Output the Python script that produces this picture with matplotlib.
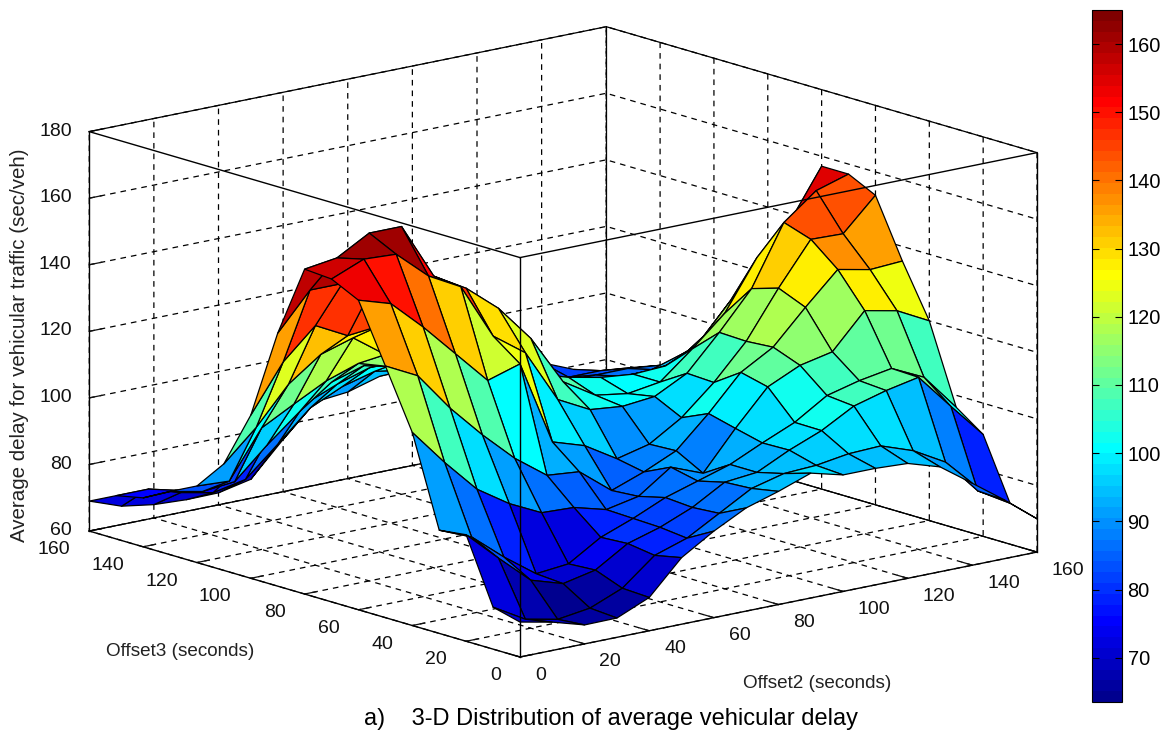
import numpy as np
import matplotlib
matplotlib.use('Agg')
import matplotlib.pyplot as plt
from matplotlib.colors import Normalize, ListedColormap
from matplotlib.cm import ScalarMappable
from mpl_toolkits.mplot3d import proj3d

plt.rcParams['font.family'] = ['Liberation Sans', 'DejaVu Sans']

offset2 = list(range(0, 170, 10))
offset3 = list(range(0, 170, 10))
r00 = [70.5,68.5,65.7,65.8,70,80,86,91,94,97.5,95,95,94.5,91.5,84.6,77.6,70]
r01 = [72.6,67,65,66.4,70.4,78.3,81.5,87,92.5,95,95.5,97,97.4,94,88.6,78,72.3]
r02 = [92,83,74.4,71.4,73.5,79.5,82.4,86.4,92,93,97.7,101.6,107,109.7,111.7,101,90.6]
r03 = [91,87,79,72,73,79,82.7,87,90,93,97.5,101.7,107.8,110.3,112,107.4,96.4]
r04 = [118,107,97,90.7,86,85.6,83,85,91.8,88,99.5,110,114.5,116.6,127,125,120]
r05 = [135.6,130.7,119,109,100,92.9,92,84.4,88,92.4,101.6,112,117.6,127.6,137,135,135.6]
r06 = [153,150,141,131,121,124,98.6,95.5,89.6,92,98,106.6,117,131,143.7,143.4,153]
r07 = [157,161,160.5,152,146.8,130,123,107,102,101,102,107,117.3,128.5,146.4,154,157]
r08 = [157.6,159,164.5,164.5,147.6,142,134,123,108,102,100.5,102,110,118.7,133.5,142,157]
r09 = [136,147,147,145,135,130,125,115,108,105,103,102,102.5,107,118,125,130]
r10 = [109,123,132,127,128,120,112,108,104,100,98,97,97,98,105,113,115]
r11 = [92,101,112,119,122,115,110,105,101,97,95,94,93,92,95,100,102]
r12 = [83,82.5,96.5,101.7,106.7,110,107,103,98,94,92,91,90,89,90,93,96]
r13 = [79,77,78,87,95,102,105,105,100,95,91,89,88,87,86,86,86]
r14 = [74.7,75,73.7,78,87,93,97,100,100,94,90,87,85,84,84,84,83]
r15 = [73,73,70,68,70,78.6,87.5,92,94.6,93,89,85,83,82,81,81,80]
r16 = [69,65.5,64,63.5,63.6,65.7,75.7,85,86,88.8,90,85,84,84,83,79,76]
delay = np.array([r00,r01,r02,r03,r04,r05,r06,r07,r08,r09,r10,r11,r12,r13,r14,r15,r16])

xy_ticks = [0,20,40,60,80,100,120,140,160]
z_ticks = [60,80,100,120,140,160,180]
cb_ticks = [70,80,90,100,110,120,130,140,150,160]
c_low, c_high = 63.5, 165

W, H = 1164, 734
fig = plt.figure(figsize=(W/100, H/100), dpi=100, facecolor='white')
ax = fig.add_axes([0.1, 0.1, 0.6, 0.6*W/H], projection='3d', computed_zorder=False)
ax.set_proj_type('ortho')
ax.view_init(elev=14.1, azim=-129.8)
ax.set_box_aspect((1, 1, 0.612))
ax.set_xlim(0, 160); ax.set_ylim(0, 160); ax.set_zlim(60, 180)

# 64-step jet as MATLAB builds it
v = np.arange(1, 65) / 64
jet_rgb = np.clip(np.column_stack([np.minimum(4*v-1.5, 4.5-4*v),
                                   np.minimum(4*v-0.5, 3.5-4*v),
                                   np.minimum(4*v+0.5, 2.5-4*v)]), 0, 1)
cmap = ListedColormap(jet_rgb)
norm = Normalize(c_low, c_high)
X, Y = np.meshgrid(offset2, offset3)
surf = ax.plot_surface(X, Y, delay, facecolors=cmap(norm(delay)), rstride=1, cstride=1,
                       shade=False, linewidth=0.9, antialiased=True, zorder=2)
surf.set_edgecolor('k')

back = [((0,160,60),(160,160,60)), ((160,0,60),(160,160,60)), ((160,160,60),(160,160,180)),
        ((0,160,180),(160,160,180)), ((160,0,180),(160,160,180))]
front = [((0,0,60),(0,0,180)), ((0,0,180),(160,0,180)), ((0,0,180),(0,160,180)),
         ((0,160,60),(0,160,180)), ((160,0,60),(160,0,180))]
base = [((0,0,60),(160,0,60)), ((0,0,60),(0,160,60))]
for a, b in back:
    ax.plot(*zip(a, b), color='k', lw=0.9, zorder=1)
for a, b in base:
    ax.plot(*zip(a, b), color='k', lw=1.0, zorder=1)
for a, b in front:
    ax.plot(*zip(a, b), color='k', lw=1.0, zorder=3)

ax.set_xticks(xy_ticks); ax.set_yticks(xy_ticks); ax.set_zticks(z_ticks)
for axis in (ax.xaxis, ax.yaxis, ax.zaxis):
    axis.set_pane_color((1, 1, 1, 0))
    axis.pane.set_edgecolor((1, 1, 1, 0))
    axis.line.set_color((0, 0, 0, 0))
    axis._axinfo['grid'].update(color='k', linestyle=(0, (4.5, 4)), linewidth=0.9)
    axis._axinfo['tick'].update(inward_factor=0.0, outward_factor=0.3)
    axis._axinfo['tick']['linewidth'] = {True: 0.9, False: 0.9}
ax.zaxis.set_ticks_position('upper')
ax.tick_params(axis='x', labelsize=14, pad=5, colors='#111111')
ax.tick_params(axis='y', labelsize=14, pad=6, colors='#111111')
ax.tick_params(axis='z', labelsize=14, pad=-1, colors='#111111')
for t in ax.get_xticklabels():
    t.set_ha('left'); t.set_va('center')
for t in ax.get_yticklabels():
    t.set_ha('right'); t.set_va('center')
for t in ax.get_zticklabels():
    t.set_ha('right'); t.set_va('center')

def px(x, y, z):
    xs, ys, _ = proj3d.proj_transform(x, y, z, ax.get_proj())
    return ax.transData.transform((xs, ys))
pos = ax.get_position(original=True)
size = pos.width * W
ax.apply_aspect()
size *= 517.0 / (px(160, 0, 60)[0] - px(0, 0, 60)[0])
ax.set_position([0.1, 0.1, size/W, size/H]); ax.apply_aspect()
p = px(0, 0, 60)
ax.set_position([0.1 + (520 - p[0])/W, 0.1 + ((H-657) - p[1])/H, size/W, size/H]); ax.apply_aspect()

cax = fig.add_axes([1092/W, 1 - 702/H, 30/W, 692/H])
cb = fig.colorbar(ScalarMappable(norm=norm, cmap=cmap), cax=cax, ticks=cb_ticks)
cb.outline.set_linewidth(0.8)
cax.tick_params(axis='y', labelsize=14.4, direction='in', length=5, width=0.8, left=True, right=True, pad=4)

fig.text(180/W, 1 - 652/H, 'Offset3 (seconds)', fontsize=13.6, ha='center', va='center', color='#222222')
fig.text(817/W, 1 - 683/H, 'Offset2 (seconds)', fontsize=13.6, ha='center', va='center', color='#222222')
fig.text(20/W, 1 - 345/H, 'Average delay for vehicular traffic (sec/veh)', fontsize=14.8, rotation=90,
         ha='center', va='center', color='#222222')
fig.text(611/W, 1 - 719/H, 'a)    3-D Distribution of average vehicular delay', fontsize=17,
         ha='center', va='center', color='k')
fig.savefig('out.png', dpi=100, facecolor='white')
